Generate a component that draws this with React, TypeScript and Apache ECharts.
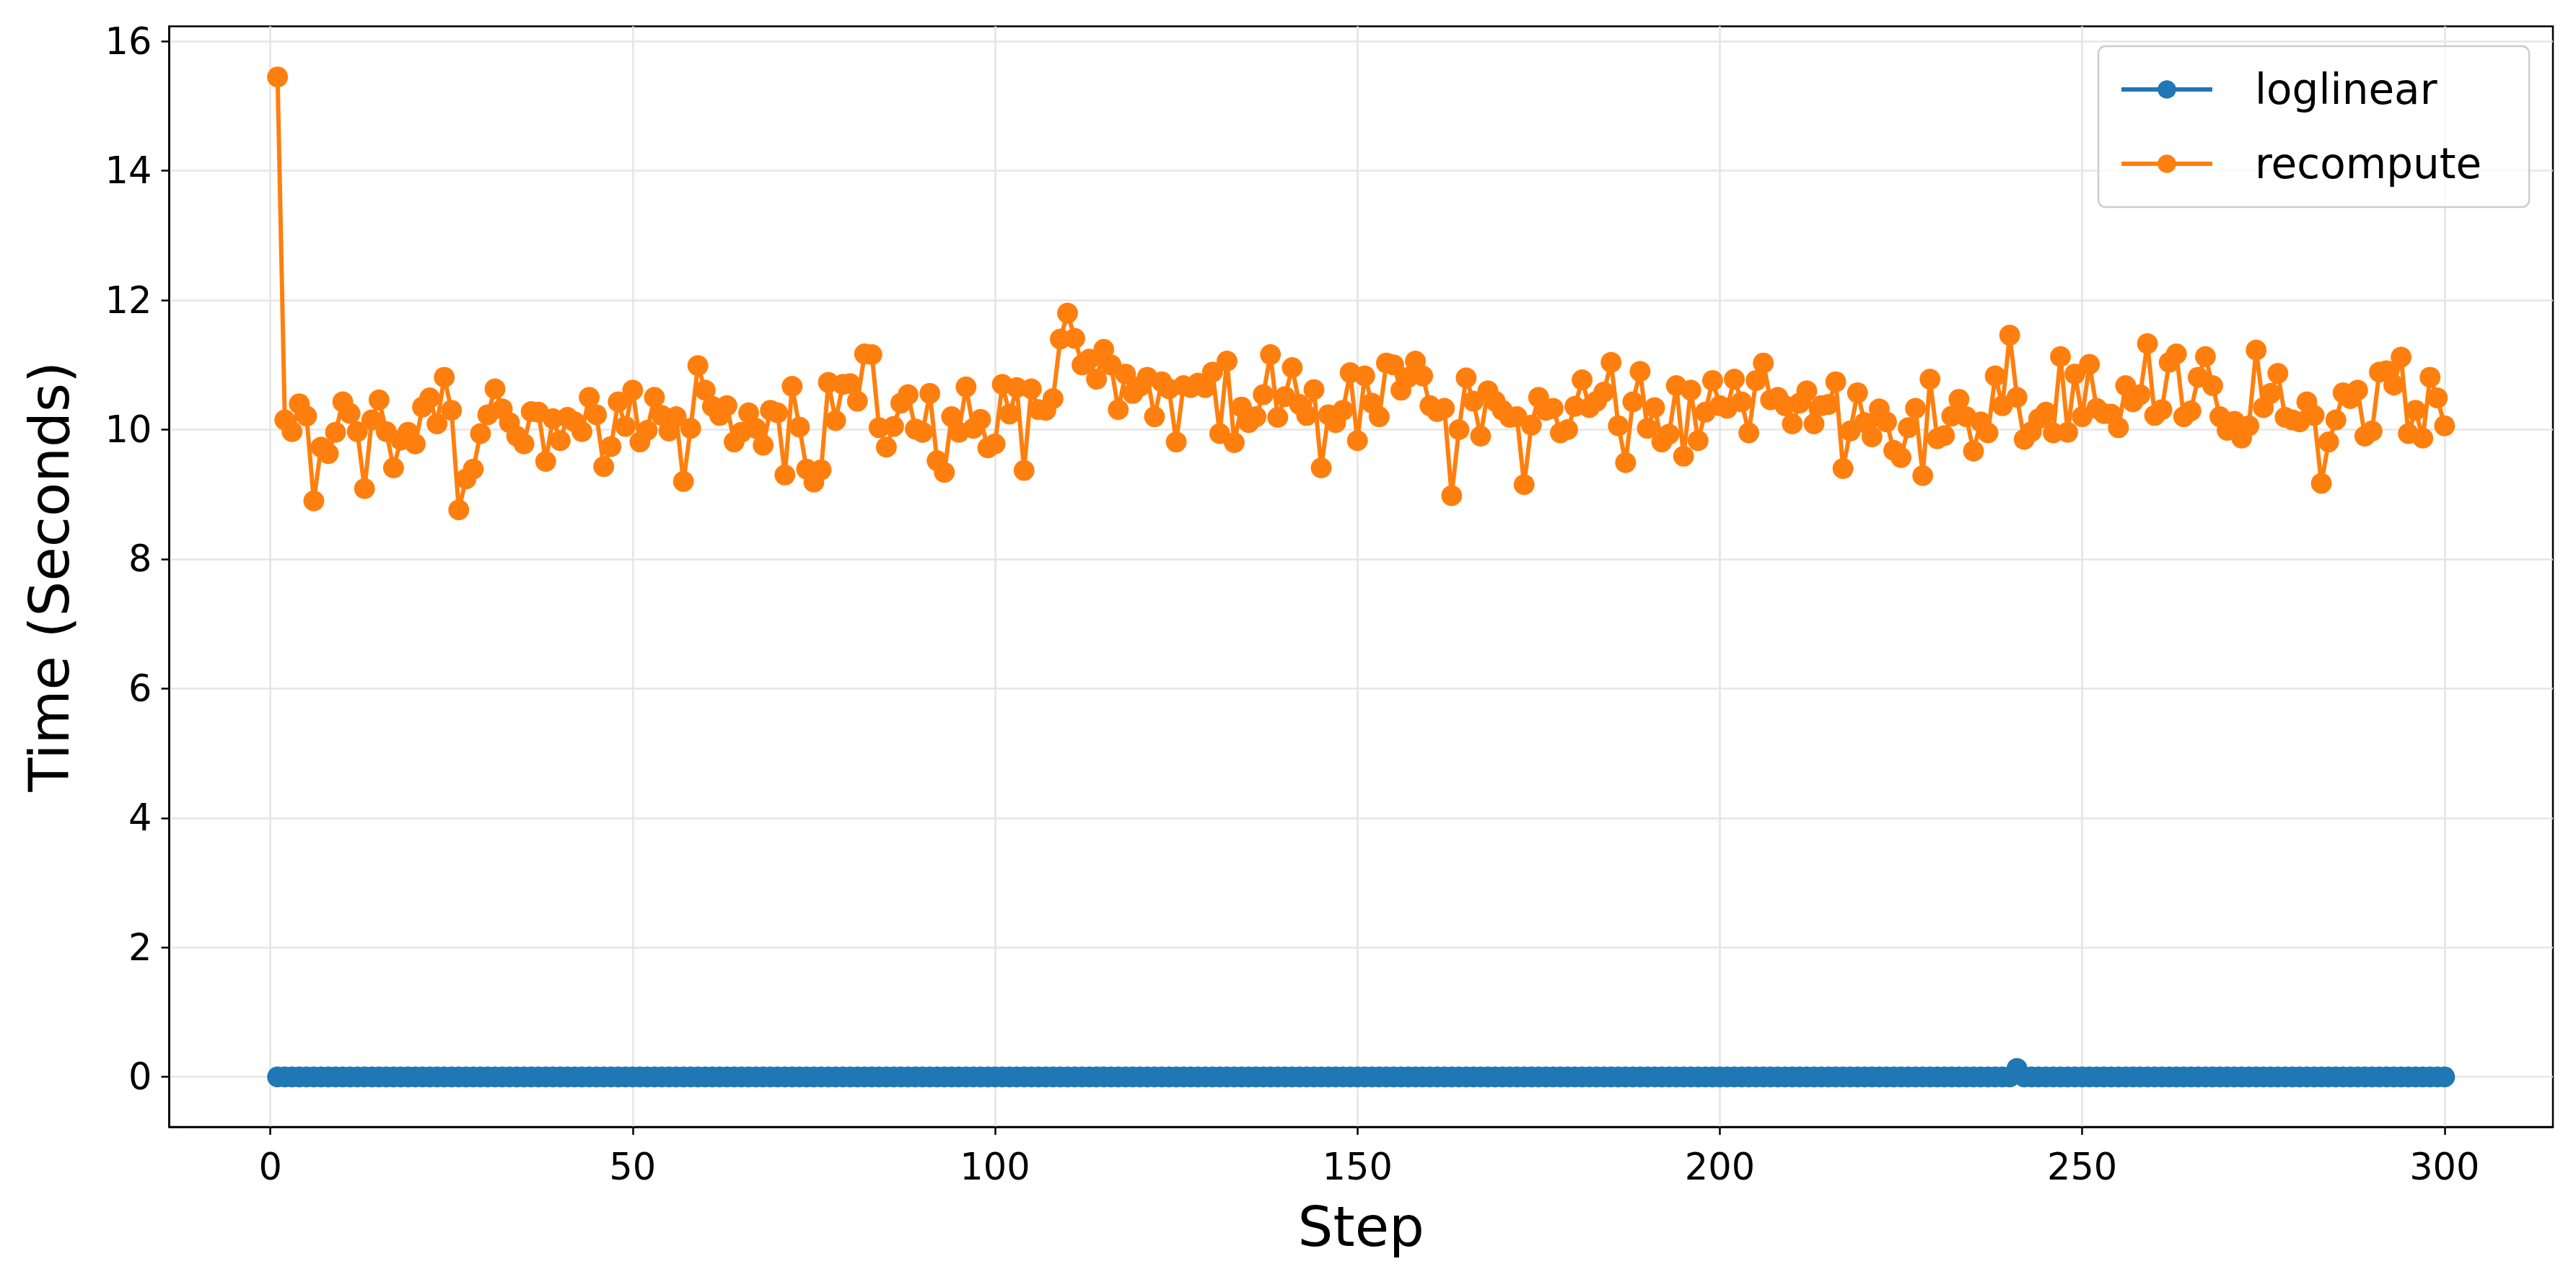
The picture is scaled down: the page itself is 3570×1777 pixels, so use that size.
import React, { useEffect, useRef } from 'react';
import * as echarts from 'echarts';

const steps: number[] = Array.from({ length: 300 }, (_, i) => i + 1);

const recompute: number[] = [
  15.45, 10.15, 9.97, 10.40, 10.21, 8.90, 9.73, 9.63, 9.96, 10.43,
  10.25, 9.97, 9.09, 10.15, 10.46, 9.97, 9.41, 9.84, 9.96, 9.78,
  10.35, 10.49, 10.09, 10.81, 10.30, 8.76, 9.24, 9.39, 9.94, 10.23,
  10.63, 10.32, 10.11, 9.90, 9.78, 10.28, 10.27, 9.51, 10.17, 9.83,
  10.19, 10.12, 9.97, 10.50, 10.23, 9.43, 9.74, 10.43, 10.05, 10.61,
  9.81, 9.99, 10.50, 10.22, 9.98, 10.20, 9.20, 10.02, 10.99, 10.61,
  10.36, 10.22, 10.37, 9.81, 9.96, 10.26, 10.02, 9.76, 10.30, 10.26,
  9.30, 10.67, 10.04, 9.39, 9.19, 9.38, 10.73, 10.14, 10.70, 10.71,
  10.44, 11.17, 11.16, 10.03, 9.73, 10.05, 10.41, 10.54, 10.01, 9.96,
  10.56, 9.52, 9.34, 10.20, 9.96, 10.66, 10.02, 10.16, 9.72, 9.78,
  10.70, 10.24, 10.65, 9.37, 10.63, 10.31, 10.30, 10.48, 11.40, 11.80,
  11.41, 11.00, 11.09, 10.78, 11.24, 11.00, 10.31, 10.86, 10.56, 10.67,
  10.81, 10.20, 10.74, 10.63, 9.81, 10.68, 10.65, 10.72, 10.65, 10.89,
  9.94, 11.06, 9.80, 10.35, 10.11, 10.20, 10.54, 11.16, 10.19, 10.51,
  10.96, 10.39, 10.22, 10.62, 9.41, 10.23, 10.11, 10.30, 10.88, 9.83,
  10.83, 10.41, 10.20, 11.03, 11.00, 10.61, 10.81, 11.06, 10.83, 10.37,
  10.28, 10.33, 8.98, 10.00, 10.80, 10.44, 9.90, 10.60, 10.44, 10.30,
  10.19, 10.20, 9.15, 10.07, 10.50, 10.30, 10.33, 9.95, 10.00, 10.36,
  10.77, 10.34, 10.44, 10.58, 11.04, 10.06, 9.49, 10.43, 10.90, 10.02,
  10.34, 9.81, 9.93, 10.68, 9.59, 10.61, 9.83, 10.27, 10.76, 10.37,
  10.33, 10.78, 10.43, 9.95, 10.76, 11.03, 10.46, 10.50, 10.37, 10.09,
  10.41, 10.60, 10.09, 10.37, 10.39, 10.74, 9.40, 9.98, 10.57, 10.11,
  9.89, 10.32, 10.12, 9.68, 9.57, 10.03, 10.33, 9.29, 10.78, 9.86,
  9.91, 10.21, 10.47, 10.20, 9.67, 10.12, 9.95, 10.83, 10.37, 11.46,
  10.50, 9.85, 9.97, 10.17, 10.27, 9.95, 11.13, 9.96, 10.86, 10.20,
  11.01, 10.33, 10.25, 10.24, 10.03, 10.68, 10.43, 10.54, 11.33, 10.22,
  10.31, 11.04, 11.17, 10.20, 10.29, 10.81, 11.13, 10.68, 10.20, 9.99,
  10.13, 9.87, 10.06, 11.23, 10.34, 10.56, 10.87, 10.19, 10.15, 10.12,
  10.43, 10.22, 9.17, 9.81, 10.15, 10.57, 10.48, 10.61, 9.90, 9.98,
  10.89, 10.91, 10.69, 11.12, 9.94, 10.30, 9.87, 10.81, 10.49, 10.06,
];

const loglinear: number[] = [
  0, 0, 0, 0, 0, 0, 0, 0, 0, 0, 0, 0, 0, 0, 0, 0, 0, 0, 0, 0, 0, 0, 0, 0, 0,
  0, 0, 0, 0, 0, 0, 0, 0, 0, 0, 0, 0, 0, 0, 0, 0, 0, 0, 0, 0, 0, 0, 0, 0, 0,
  0, 0, 0, 0, 0, 0, 0, 0, 0, 0, 0, 0, 0, 0, 0, 0, 0, 0, 0, 0, 0, 0, 0, 0, 0,
  0, 0, 0, 0, 0, 0, 0, 0, 0, 0, 0, 0, 0, 0, 0, 0, 0, 0, 0, 0, 0, 0, 0, 0, 0,
  0, 0, 0, 0, 0, 0, 0, 0, 0, 0, 0, 0, 0, 0, 0, 0, 0, 0, 0, 0, 0, 0, 0, 0, 0,
  0, 0, 0, 0, 0, 0, 0, 0, 0, 0, 0, 0, 0, 0, 0, 0, 0, 0, 0, 0, 0, 0, 0, 0, 0,
  0, 0, 0, 0, 0, 0, 0, 0, 0, 0, 0, 0, 0, 0, 0, 0, 0, 0, 0, 0, 0, 0, 0, 0, 0,
  0, 0, 0, 0, 0, 0, 0, 0, 0, 0, 0, 0, 0, 0, 0, 0, 0, 0, 0, 0, 0, 0, 0, 0, 0,
  0, 0, 0, 0, 0, 0, 0, 0, 0, 0, 0, 0, 0, 0, 0, 0, 0, 0, 0, 0, 0, 0, 0, 0, 0,
  0, 0, 0, 0, 0, 0, 0, 0, 0, 0, 0, 0, 0, 0, 0, 0.13, 0, 0, 0, 0, 0, 0, 0, 0, 0,
  0, 0, 0, 0, 0, 0, 0, 0, 0, 0, 0, 0, 0, 0, 0, 0, 0, 0, 0, 0, 0, 0, 0, 0, 0,
  0, 0, 0, 0, 0, 0, 0, 0, 0, 0, 0, 0, 0, 0, 0, 0, 0, 0, 0, 0, 0, 0, 0, 0, 0,
];

const seriesNames = ['loglinear', 'recompute'];
const seriesColors = ['#1f77b4', '#ff7f0e'];
const xTicks = [0, 50, 100, 150, 200, 250, 300];
const yTicks = [0, 2, 4, 6, 8, 10, 12, 14, 16];
const xTitle = 'Step';
const yTitle = 'Time (Seconds)';

const FONT = 'DejaVu Sans';

export default function App() {
  const ref = useRef<HTMLDivElement>(null);

  useEffect(() => {
    if (!ref.current) return;
    const chart = echarts.init(ref.current, null, { renderer: 'svg' });
    const seriesData = [loglinear, recompute];

    const tickFmt = (list: number[]) => (v: number) =>
      list.some((t) => Math.abs(t - v) < 1e-6) ? String(Math.round(v)) : '';

    chart.setOption({
      animation: false,
      backgroundColor: '#ffffff',
      textStyle: { fontFamily: FONT },
      grid: {
        left: 234.5,
        top: 36.4,
        right: 32,
        bottom: 215,
        show: true,
        borderColor: '#000000',
        borderWidth: 2.5,
        backgroundColor: 'transparent',
        containLabel: false,
        outerBoundsMode: 'none',
      },
      xAxis: {
        type: 'value',
        min: -13.95,
        max: 314.95,
        splitNumber: 6,
        minInterval: 50,
        maxInterval: 50,
        name: xTitle,
        nameLocation: 'middle',
        nameGap: 100,
        nameTextStyle: { fontSize: 77, color: '#000000', fontFamily: FONT },
        axisLine: { show: true, onZero: false, lineStyle: { color: '#000000', width: 2.5 } },
        axisTick: {
          show: true,
          inside: false,
          length: 11,
          lineStyle: { color: '#000000', width: 2.5 },
          customValues: xTicks,
        },
        axisLabel: {
          fontSize: 51,
          color: '#000000',
          fontFamily: FONT,
          margin: 30,
          customValues: xTicks,
          formatter: tickFmt(xTicks),
        },
        splitLine: { show: true, lineStyle: { color: '#e6e6e6', width: 2.7 } },
      },
      yAxis: {
        type: 'value',
        min: -0.773,
        max: 16.233,
        splitNumber: 8,
        minInterval: 2,
        maxInterval: 2,
        name: yTitle,
        nameLocation: 'middle',
        nameGap: 128,
        nameRotate: 90,
        nameTextStyle: { fontSize: 77, color: '#000000', fontFamily: FONT },
        axisLine: { show: true, onZero: false, lineStyle: { color: '#000000', width: 2.5 } },
        axisTick: {
          show: true,
          inside: false,
          length: 11,
          lineStyle: { color: '#000000', width: 2.5 },
          customValues: yTicks,
        },
        axisLabel: {
          fontSize: 51,
          color: '#000000',
          fontFamily: FONT,
          margin: 24,
          customValues: yTicks,
          formatter: tickFmt(yTicks),
        },
        splitLine: { show: true, lineStyle: { color: '#e6e6e6', width: 2.7 } },
      },
      legend: {
        data: seriesNames.map((name, k) => ({
          name,
          lineStyle: { width: 6, color: seriesColors[k] },
          itemStyle: { color: seriesColors[k] },
        })),
        orient: 'vertical',
        left: 2908,
        top: 64,
        itemWidth: 126,
        itemHeight: 32,
        itemGap: 45,
        padding: [31, 66, 31, 29],
        borderColor: '#cccccc',
        borderWidth: 2.5,
        borderRadius: 10,
        backgroundColor: 'rgba(255,255,255,0.8)',
        lineStyle: { width: 6 },
        textStyle: {
          fontSize: 58,
          lineHeight: 58,
          color: '#000000',
          fontFamily: FONT,
          padding: [0, 0, 0, 54],
        },
      },
      series: seriesNames.map((name, k) => ({
        name,
        type: 'line',
        data: steps.map((s, i) => [s, seriesData[k][i]]),
        symbol: 'circle',
        symbolSize: 29,
        showSymbol: true,
        showAllSymbol: true,
        color: seriesColors[k],
        lineStyle: { width: 6, color: seriesColors[k] },
        itemStyle: { color: seriesColors[k] },
        emphasis: { disabled: true },
        z: 2 + k,
      })),
    });

    return () => {
      chart.dispose();
    };
  }, []);

  return (
    <div
      ref={ref}
      style={{ position: 'absolute', left: 0, top: 0, width: 3570, height: 1777 }}
    />
  );
}
